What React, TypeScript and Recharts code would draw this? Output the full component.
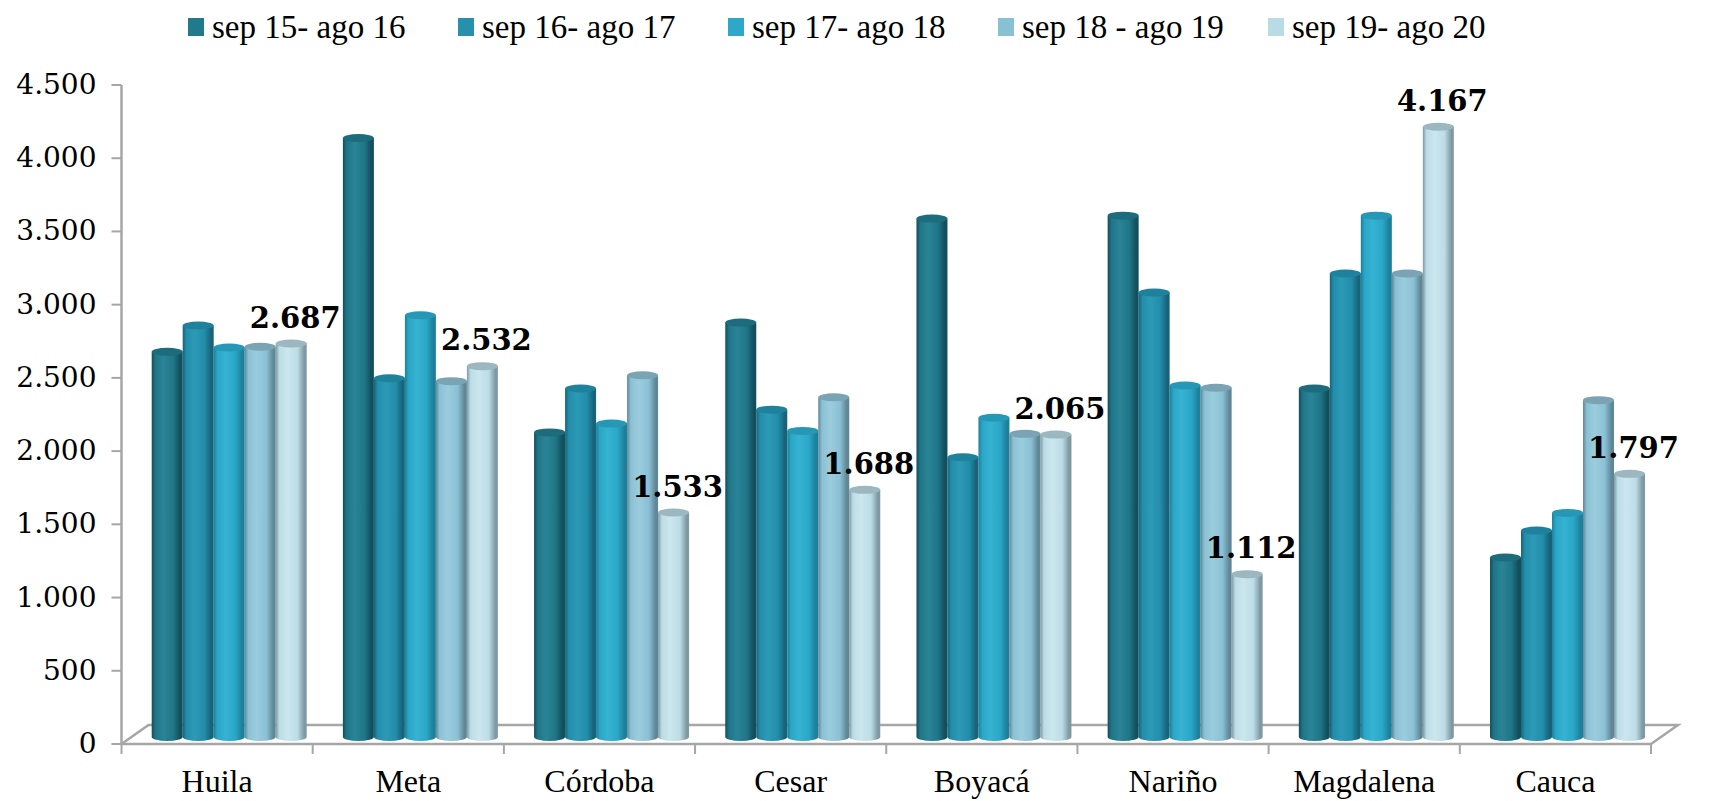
import React from 'react';
import { BarChart, Bar, XAxis, YAxis, LabelList, usePlotArea } from 'recharts';

const categories = ['Huila', 'Meta', 'Córdoba', 'Cesar', 'Boyacá', 'Nariño', 'Magdalena', 'Cauca'];
const seriesNames = ['sep 15- ago 16', 'sep 16- ago 17', 'sep 17- ago 18', 'sep 18 - ago 19', 'sep 19- ago 20'];
const serie1 = [2630, 4090, 2080, 2830, 3540, 3560, 2380, 1225];
const serie2 = [2810, 2450, 2380, 2235, 1910, 3035, 3165, 1410];
const serie3 = [2660, 2880, 2140, 2090, 2180, 2400, 3560, 1530];
const serie4 = [2665, 2430, 2470, 2320, 2070, 2385, 3165, 2300];
const serie5 = [2687, 2532, 1533, 1688, 2065, 1112, 4167, 1797];
const yTicks = [0, 500, 1000, 1500, 2000, 2500, 3000, 3500, 4000, 4500];

const seriesValues = [serie1, serie2, serie3, serie4, serie5];
const keys = ['s1', 's2', 's3', 's4', 's5'];

const data = categories.map((c, i) => {
  const row: any = { name: c };
  keys.forEach((k, j) => (row[k] = seriesValues[j][i]));
  return row;
});

const legendColors = ['#217a8c', '#2690ad', '#2ea8c8', '#88c0d4', '#b9dbe5'];
const palette = [
  { edge: '#134e5c', light: '#2a8497', base: '#1f7587', top: '#1c6c7d' },
  { edge: '#176379', light: '#2c9ab7', base: '#238daa', top: '#1f829c' },
  { edge: '#1d7f9a', light: '#36b3d2', base: '#2aa6c6', top: '#2698b6' },
  { edge: '#5f8796', light: '#9accdd', base: '#8bc1d5', top: '#7aa4b3' },
  { edge: '#7f99a2', light: '#cbe6ee', base: '#bcdde7', top: '#9cb7c0' },
];

const fmt = (v: number) => String(v).replace(/\B(?=(\d{3})+(?!\d))/g, '.');

const DX = 13;
const DY = -7;
const RY = 4;
const AXIS_COLOR = '#a6a6a6';

function Cylinder(props: any) {
  const { x, y, width, height, si } = props;
  if (width == null || height == null) return null;
  const x0 = x + DX;
  const x1 = x + DX + width;
  const top = y + DY;
  const bottom = y + height + DY;
  const rx = width / 2;
  const cx = x0 + rx;
  const p = palette[si];
  const body = `M${x0},${top} L${x0},${bottom} A${rx},${RY} 0 0 0 ${x1},${bottom} L${x1},${top} Z`;
  return (
    <g>
      <path d={body} fill={`url(#cyl${si})`} />
      <ellipse cx={cx} cy={top} rx={rx} ry={RY} fill={p.top} />
    </g>
  );
}

function Floor() {
  const area: any = usePlotArea();
  if (!area) return null;
  const { x, y, width, height } = area;
  const by = y + height;
  const ddx = 27;
  const ddy = -19;
  const band = width / categories.length;
  const ticks = [];
  for (let i = 0; i <= categories.length; i++) {
    ticks.push(
      <line key={i} x1={x + i * band} x2={x + i * band} y1={by} y2={by + 10} stroke={AXIS_COLOR} strokeWidth={2} />
    );
  }
  return (
    <g>
      <polyline
        points={`${x},${by} ${x + ddx},${by + ddy} ${x + width + ddx},${by + ddy} ${x + width},${by}`}
        fill="none"
        stroke={AXIS_COLOR}
        strokeWidth={2.5}
      />
      {ticks}
    </g>
  );
}

const LabelTop = (props: any) => {
  const { x, y, width, value } = props;
  return (
    <text
      x={x + DX + width / 2 + 4}
      y={y + DY - 16}
      textAnchor="middle"
      fontFamily="'DejaVu Serif', serif"
      fontWeight="bold"
      fontSize={29}
      fill="#000"
    >
      {fmt(value)}
    </text>
  );
};

const XTick = (props: any) => {
  const { x, y, payload } = props;
  return (
    <text x={x} y={y + 40} textAnchor="middle" fontFamily="'Liberation Serif', serif" fontSize={32} fill="#000">
      {payload.value}
    </text>
  );
};

const YTick = (props: any) => {
  const { x, y, payload } = props;
  return (
    <text x={x} y={y + 9} textAnchor="end" fontFamily="'DejaVu Serif', serif" fontSize={28} fill="#000">
      {fmt(payload.value)}
    </text>
  );
};

export default function App() {
  return (
    <div style={{ position: 'relative', width: 1699, height: 793 }}>
      <div style={{ position: 'absolute', left: 180, top: 2, display: 'flex' }}>
        {seriesNames.map((n, i) => (
          <div key={n} style={{ width: 270, display: 'flex', alignItems: 'center', height: 34 }}>
            <div style={{ width: 16, height: 18, background: legendColors[i], marginRight: 8 }} />
            <span style={{ fontFamily: "'Liberation Serif', serif", fontSize: 33, color: '#000', whiteSpace: 'nowrap' }}>{n}</span>
          </div>
        ))}
      </div>
      <BarChart
        width={1699}
        height={793}
        data={data}
        margin={{ top: 77, right: 56, left: 0, bottom: 0 }}
        barCategoryGap="9%"
        barGap={0}
      >
        <defs>
          {palette.map((p, i) => (
            <linearGradient key={i} id={`cyl${i}`} x1="0" y1="0" x2="1" y2="0">
              <stop offset="0%" stopColor={p.edge} />
              <stop offset="12%" stopColor={p.base} />
              <stop offset="38%" stopColor={p.light} />
              <stop offset="70%" stopColor={p.base} />
              <stop offset="92%" stopColor={p.edge} />
              <stop offset="100%" stopColor={p.edge} />
            </linearGradient>
          ))}
        </defs>
        <Floor />
        <XAxis
          dataKey="name"
          height={57}
          tickLine={false}
          axisLine={{ stroke: AXIS_COLOR, strokeWidth: 2.5 }}
          tick={<XTick />}
          interval={0}
        />
        <YAxis
          width={113.5}
          domain={[0, 4500]}
          ticks={yTicks}
          interval={0}
          tickSize={10}
          tickMargin={15}
          tickLine={{ stroke: AXIS_COLOR, strokeWidth: 2 }}
          axisLine={{ stroke: AXIS_COLOR, strokeWidth: 2.5 }}
          tick={<YTick />}
        />
        {keys.map((k, i) => (
          <Bar
            key={k}
            dataKey={k}
            name={seriesNames[i]}
            fill={legendColors[i]}
            isAnimationActive={false}
            shape={(p: any) => <Cylinder {...p} si={i} />}
          >
            {i === 4 ? <LabelList dataKey={k} content={<LabelTop />} /> : null}
          </Bar>
        ))}
      </BarChart>
    </div>
  );
}
